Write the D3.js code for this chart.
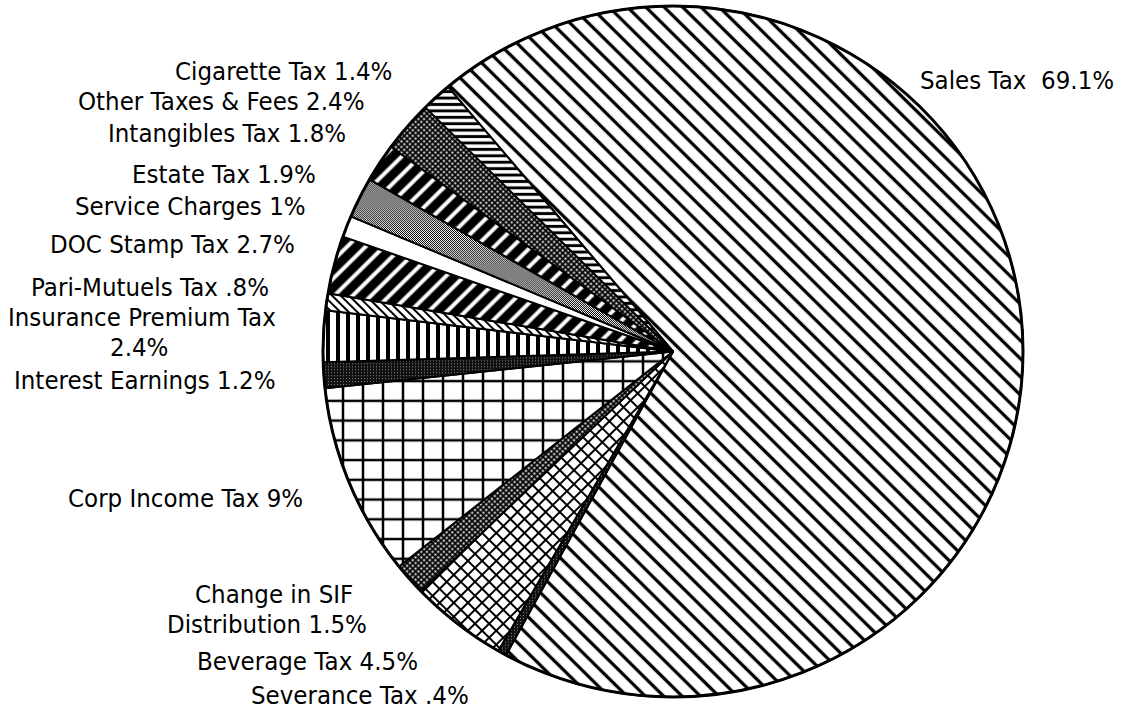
<!DOCTYPE html>
<html>
<head>
<meta charset="utf-8">
<script src="https://cdn.jsdelivr.net/npm/d3@7"></script>
<style>
body { margin: 0; background: #fff; }
text { font-family: "DejaVu Sans", sans-serif; font-size: 23px; fill: #000; white-space: pre; }
</style>
</head>
<body>
<svg id="chart"></svg>
<script>
// slices in drawing order, clockwise from the top-left edge of Sales Tax
var categories = ["Sales Tax", "Severance Tax", "Beverage Tax", "Change in SIF Distribution", "Corp Income Tax",
	"Interest Earnings", "Insurance Premium Tax", "Pari-Mutuels Tax", "DOC Stamp Tax", "Service Charges",
	"Estate Tax", "Intangibles Tax", "Other Taxes & Fees", "Cigarette Tax"];
var values = [69.1, 0.4, 4.5, 1.5, 9, 1.2, 2.4, 0.8, 2.7, 1, 1.9, 1.8, 2.4, 1.4];
var labels = [["Sales Tax  69.1%"], ["Severance Tax .4%"], ["Beverage Tax 4.5%"], ["Change in SIF", "Distribution 1.5%"],
	["Corp Income Tax 9%"], ["Interest Earnings 1.2%"], ["Insurance Premium Tax", "2.4%"], ["Pari-Mutuels Tax .8%"],
	["DOC Stamp Tax 2.7%"], ["Service Charges 1%"], ["Estate Tax 1.9%"], ["Intangibles Tax 1.8%"],
	["Other Taxes & Fees 2.4%"], ["Cigarette Tax 1.4%"]];
var fills = ["diagBack", "stipple", "crossDiag", "checker", "grid", "stipple", "vert", "diagFine",
	"blackSlash", "white", "gray", "blackSlash", "checker", "horiz"];

// where each label line sits (left x, baseline)
var labelPos = [[[920, 89]], [[251, 704]], [[197, 670]], [[195, 603], [167, 633]], [[68, 507]], [[14, 389]],
	[[8, 326], [110, 356]], [[31, 296]], [[50, 253]], [[75, 215]], [[132, 183]], [[108, 142]], [[78, 110]], [[175, 80]]];

var width = 1138, height = 710;
var cx = 673, cy = 351.5, rx = 350, ry = 345.5;

var svg = d3.select("#chart").attr("width", width).attr("height", height);
var defs = svg.append("defs");

function linePattern(id, size, stroke, angle) {
	var p = defs.append("pattern").attr("id", id).attr("patternUnits", "userSpaceOnUse")
		.attr("width", size).attr("height", size).attr("patternTransform", "rotate(" + angle + ")");
	p.append("rect").attr("width", size).attr("height", size).attr("fill", "#fff");
	p.append("line").attr("x1", size / 2).attr("y1", 0).attr("x2", size / 2).attr("y2", size)
		.attr("stroke", "#000").attr("stroke-width", stroke);
	return p;
}

linePattern("diagBack", 13, 3.3, -45);
linePattern("diagFine", 6, 2, -45);
linePattern("vert", 10, 4, 0);
linePattern("horiz", 6.5, 3, 90);

var cd = linePattern("crossDiag", 10, 2, 45);
cd.append("line").attr("x1", 0).attr("y1", 5).attr("x2", 10).attr("y2", 5).attr("stroke", "#000").attr("stroke-width", 2);

var gr = linePattern("grid", 20, 2.5, 0);
gr.append("line").attr("x1", 0).attr("y1", 10).attr("x2", 20).attr("y2", 10).attr("stroke", "#000").attr("stroke-width", 2.5);

// black with white "/" bars
var bs = defs.append("pattern").attr("id", "blackSlash").attr("patternUnits", "userSpaceOnUse")
	.attr("width", 13).attr("height", 13).attr("patternTransform", "rotate(45)");
bs.append("rect").attr("width", 13).attr("height", 13).attr("fill", "#000");
bs.append("line").attr("x1", 6.5).attr("y1", 0).attr("x2", 6.5).attr("y2", 13).attr("stroke", "#fff").attr("stroke-width", 4);

var ck = defs.append("pattern").attr("id", "checker").attr("patternUnits", "userSpaceOnUse")
	.attr("width", 4).attr("height", 4).attr("patternTransform", "rotate(45)");
ck.append("rect").attr("width", 4).attr("height", 4).attr("fill", "#000");
ck.append("rect").attr("x", 0.5).attr("y", 0.5).attr("width", 2).attr("height", 2).attr("fill", "#fff");

var gy = defs.append("pattern").attr("id", "gray").attr("patternUnits", "userSpaceOnUse")
	.attr("width", 2).attr("height", 2);
gy.append("rect").attr("width", 2).attr("height", 2).attr("fill", "#fff");
gy.append("rect").attr("width", 1).attr("height", 1).attr("fill", "#000");
gy.append("rect").attr("x", 1).attr("y", 1).attr("width", 1).attr("height", 1).attr("fill", "#000");

var st = defs.append("pattern").attr("id", "stipple").attr("patternUnits", "userSpaceOnUse")
	.attr("width", 3).attr("height", 3);
st.append("rect").attr("width", 3).attr("height", 3).attr("fill", "#111");
st.append("rect").attr("width", 1).attr("height", 1).attr("fill", "#888");

function fillFor(name) {
	if (name == "white") return "#fff";
	return "url(#" + name + ")";
}

var start = -40 * Math.PI / 180;
var pie = d3.pie().sort(null).value(function(d) { return d; })
	.startAngle(start).endAngle(start + 2 * Math.PI);
var arc = d3.arc().innerRadius(0).outerRadius(rx);

var g = svg.append("g").attr("transform", "translate(" + cx + "," + cy + ") scale(1," + (ry / rx) + ")");

g.selectAll("path.slice").data(pie(values)).enter().append("path")
	.attr("class", "slice")
	.attr("d", arc)
	.attr("fill", function(d, i) { return fillFor(fills[i]); })
	.attr("stroke", "#000").attr("stroke-width", 2).attr("stroke-linejoin", "round");

g.append("circle").attr("r", rx).attr("fill", "none").attr("stroke", "#000").attr("stroke-width", 3);

// labels: measure at 23px, then draw taller and squeeze back to that width
labels.forEach(function(lines, i) {
	lines.forEach(function(s, j) {
		var t = svg.append("text").attr("x", labelPos[i][j][0]).attr("y", labelPos[i][j][1]).text(s);
		var w = t.node().getComputedTextLength();
		t.style("font-size", "24.5px").attr("textLength", w).attr("lengthAdjust", "spacingAndGlyphs");
	});
});
</script>
</body>
</html>
